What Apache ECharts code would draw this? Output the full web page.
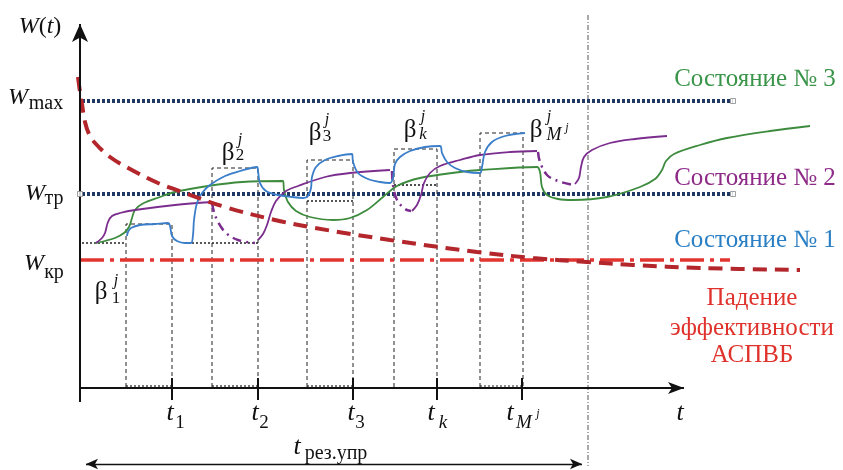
<!DOCTYPE html>
<html><head><meta charset="utf-8">
<script src="https://cdn.jsdelivr.net/npm/echarts@6/dist/echarts.min.js"></script>
<style>html,body{margin:0;padding:0;background:#fff}
#wrap{position:relative;width:843px;height:470px;overflow:hidden}
#c{position:absolute;left:0;top:0;width:843px;height:470px}
.lbl{position:absolute;white-space:nowrap;line-height:1;transform:translate(-50%,-50%);
font-family:"Liberation Serif","Times New Roman",Tinos,serif;pointer-events:none}</style>
</head><body><div id="wrap"><div id="c"></div></div>
<script>
const levelWmax = 101;
const levelWtr = 194;
const levelWkr = 260;
const levelFrom = 82;
const levelTo = 733;
const axisOrigin = [80, 388];
const tickTimes = [172, 258, 353, 437, 522];
const tickNames = ['1', '2', '3', 'k', 'M'];
const tReserve = 588;

const efficiencyDrop = [[78,77],[80,92],[82,104],[85,122],[89,134],[95,143],[110,157],[130,169],[158,183],[185,193],[225,207],[275,220],[315,228],[390,240],[477,252],[533,258],[587,262],[633,265],[700,268],[800,270]];

const state1 = [[127,236],[128,232],[131,228],[140,225],[155,224],[168,223],[170,226],[172,236],[177,241],[185,243],[191,243],[193,235],[194,220],[197,203],[202,193],[210,185],[225,176],[240,171],[257,167],[258,171],[260,183],[266,191],[278,195],[292,197],[303,198],[308,196],[311,188],[312,177],[316,167],[325,160],[338,156],[352,154],[353,162],[358,173],[368,179],[380,182],[390,183],[393,178],[395,164],[400,157],[410,151],[425,147],[440,146],[442,153],[447,162],[455,168],[467,172],[480,173],[482,167],[485,152],[492,142],[505,136],[525,133]];

const state2a = [[96,243],[102,238],[105,233],[108,222],[112,216],[120,213],[135,210],[175,205],[212,202]];
const state2b = [[212,203],[214,212],[218,222],[226,233],[238,240],[255,243]];
const state2c = [[258,240],[263,234],[267,225],[271,212],[276,201],[286,191],[298,186],[325,177],[350,173],[390,170]];
const state2d = [[392,171],[393,185],[397,200],[405,209],[411,211]];
const state2e = [[412,211],[417,205],[421,195],[424,183],[430,173],[440,166],[460,160],[480,155],[510,152],[537,151]];
const state2f = [[538,152],[540,162],[547,175],[558,181],[573,185]];
const state2g = [[575,184],[579,178],[581,167],[584,157],[592,150],[610,143],[635,139],[667,136]];

const state3 = [[95,243],[105,241],[115,238],[124,233],[129,227],[132,218],[135,210],[142,204],[160,197],[175,192],[208,186],[242,182],[283,181],[284,190],[288,202],[296,211],[310,217],[333,220],[350,218],[367,210],[383,197],[397,186],[420,178],[460,172],[480,170],[537,167],[540,172],[542,187],[547,195],[558,199],[573,200],[607,197],[640,187],[655,179],[662,170],[666,161],[674,154],[700,145],[727,138],[770,131],[810,126]];

// beta intervals: [left, top, right]
const betaBoxes = [[126,224,172],[212,168,258],[307,160,353],[394,149,437],[480,133,523]];
// auxiliary dotted steps: [from, to, level]
const stepLines = [[82,126,243],[192,258,243],[307,353,201],[394,437,185]];

// ---- Annotation layout ----
const notes = [
  // text, x, y, size, italic, color
  ['W', 18, 96, 24, 1, '#111'], ['max', 46, 102, 20, 0, '#111'],
  ['W', 35, 192, 24, 1, '#111'], ['тр', 54, 197, 20, 0, '#111'],
  ['W', 34, 262, 24, 1, '#111'], ['кр', 54, 271, 20, 0, '#111'],
  ['β', 101, 290, 25, 0, '#111'], ['j', 116, 280, 16, 1, '#111'], ['1', 116, 297, 17, 0, '#111'],
  ['β', 228, 151, 25, 0, '#111'], ['j', 240, 139, 16, 1, '#111'], ['2', 240, 154, 17, 0, '#111'],
  ['β', 315, 131, 25, 0, '#111'], ['j', 327, 119, 16, 1, '#111'], ['3', 327, 135, 17, 0, '#111'],
  ['β', 410, 128, 25, 0, '#111'], ['j', 423, 116, 16, 1, '#111'], ['k', 423, 133, 17, 1, '#111'],
  ['β', 536, 128, 25, 0, '#111'], ['j', 549, 116, 16, 1, '#111'], ['M', 554, 134, 18, 1, '#111'], ['j', 567, 127, 12, 1, '#111'],
  ['t', 170, 412, 26, 1, '#111'], ['1', 180, 421, 19, 0, '#111'],
  ['t', 255, 412, 26, 1, '#111'], ['2', 264, 421, 19, 0, '#111'],
  ['t', 351, 412, 26, 1, '#111'], ['3', 360, 421, 19, 0, '#111'],
  ['t', 431, 412, 26, 1, '#111'], ['k', 443, 421, 19, 1, '#111'],
  ['t', 510, 412, 26, 1, '#111'], ['M', 524, 421, 19, 1, '#111'], ['j', 538, 413, 12, 1, '#111'],
  ['t', 680, 412, 26, 1, '#111'],
  ['t', 297, 446, 26, 1, '#111'], ['рез.упр', 336, 452, 20, 0, '#111'],
  ['Состояние № 3', 755, 77, 25, 0, '#3a944a'],
  ['Состояние № 2', 755, 176, 25, 0, '#8e2b88'],
  ['Состояние № 1', 755, 238, 25, 0, '#2a7fc4'],
  ['Падение', 752, 296, 25, 0, '#e0322c'],
  ['эффективности', 752, 326, 25, 0, '#e0322c'],
  ['АСПВБ', 752, 353, 25, 0, '#e0322c']
];

const chart = echarts.init(document.getElementById('c'));

function curve(data, color, width, type, z) {
  return {type: 'line', data: data, symbol: 'none', smooth: 0.35,
    lineStyle: {color: color, width: width, type: type, cap: 'butt'}, silent: true, animation: false, z: z || 3};
}
function seg(data, color, width, type, z) {
  return {type: 'line', data: data, symbol: 'none', smooth: false,
    lineStyle: {color: color, width: width, type: type, cap: 'butt'}, silent: true, animation: false, z: z || 2};
}

const series = [];
betaBoxes.forEach(function (b, i) {
  series.push(seg([[b[0], axisOrigin[1] - 1], [b[0], b[1]], [b[2], b[1]], [b[2], axisOrigin[1] - 1]], '#222', 1, [4, 3], 1));
  if (i !== 3) series.push(seg([[b[0], axisOrigin[1] - 2], [b[2], axisOrigin[1] - 2]], '#222', 1.2, [2, 2], 1));
});
stepLines.forEach(function (s) {
  series.push(seg([[s[0], s[2]], [s[1], s[2]]], '#222', 1.6, [2, 2], 1));
});
series.push(seg([[tReserve, 15], [tReserve, 466]], '#555', 1, [5, 2, 1, 2], 1));
series.push(seg([[levelFrom, levelWmax], [levelTo, levelWmax]], '#203864', 4, [3, 2], 2));
series.push(seg([[levelFrom, levelWtr], [levelTo, levelWtr]], '#203864', 4, [3, 2], 2));
series.push(seg([[80, levelWkr], [730, levelWkr]], '#e3352f', 3.5, [24, 6, 4, 6], 2));
series.push({type: 'scatter', data: [[levelTo, levelWmax], [levelTo, levelWtr], [80, levelWtr]], symbol: 'rect', symbolSize: 5,
  itemStyle: {color: '#fff', borderColor: '#888', borderWidth: 1}, silent: true, animation: false, z: 5});
series.push(curve(state3, '#3d8b3d', 1.8));
series.push(curve(state2a, '#7b2d8e', 1.8));
series.push(curve(state2b, '#7b2d8e', 2.5, [9, 5, 2, 5]));
series.push(curve(state2c, '#7b2d8e', 1.8));
series.push(curve(state2d, '#7b2d8e', 2.5, [9, 5, 2, 5]));
series.push(curve(state2e, '#7b2d8e', 1.8));
series.push(curve(state2f, '#7b2d8e', 2.5, [9, 5, 2, 5]));
series.push(curve(state2g, '#7b2d8e', 1.8));
series.push(curve(state1, '#3a7dc9', 1.8));
series.push(curve(efficiencyDrop, '#b3262b', 4, [14, 8], 4));

const mlCommon = {silent: true, animation: false, label: {show: false}, emphasis: {disabled: true}};
function axisHost(ml) {
  return {type: 'line', data: [[axisOrigin[0], axisOrigin[1]]], symbol: 'none', silent: true, animation: false, z: 6,
    lineStyle: {width: 0}, markLine: Object.assign({}, mlCommon, ml)};
}
series.push(axisHost({
  symbol: ['none', 'arrow'], symbolSize: [12, 18],
  lineStyle: {color: '#111', width: 2, type: 'solid'},
  data: [
    [{coord: [axisOrigin[0], 402]}, {coord: [axisOrigin[0], 24]}],
    [{coord: [axisOrigin[0], axisOrigin[1]], symbolSize: [9, 16]}, {coord: [684, axisOrigin[1]], symbolSize: [9, 16]}]
  ]
}));
series.push(axisHost({
  symbol: ['arrow', 'arrow'], symbolSize: [8, 12],
  lineStyle: {color: '#111', width: 1.3, type: 'solid'},
  data: [[{coord: [86, 464]}, {coord: [tReserve - 6, 464]}]]
}));
series.push(axisHost({
  symbol: ['none', 'none'],
  lineStyle: {color: '#111', width: 2, type: 'solid'},
  data: tickTimes.map(function (t) { return [{coord: [t, 378]}, {coord: [t, 400]}]; })
}));

chart.setOption({
  animation: false,
  grid: {left: 0, right: 0, top: 0, bottom: 0},
  xAxis: {type: 'value', min: 0, max: 843, show: false},
  yAxis: {type: 'value', min: 0, max: 470, inverse: true, show: false},
  series: series
});

// text annotations: real text, positioned through the chart's own coordinate conversion
const wrap = document.getElementById('wrap');
function addLabel(html, x, y, size, italic, color) {
  const p = chart.convertToPixel({gridIndex: 0}, [x, y]);
  const el = document.createElement('div');
  el.className = 'lbl';
  el.style.left = p[0] + 'px';
  el.style.top = p[1] + 'px';
  el.style.fontSize = size + 'px';
  el.style.fontStyle = italic ? 'italic' : 'normal';
  el.style.color = color;
  el.innerHTML = html;
  wrap.appendChild(el);
}
notes.forEach(function (n) { addLabel(n[0], n[1], n[2], n[3], n[4], n[5]); });
addLabel('<i>W</i>(<i>t</i>)', 40, 25, 24, 0, '#111');
</script></body></html>
